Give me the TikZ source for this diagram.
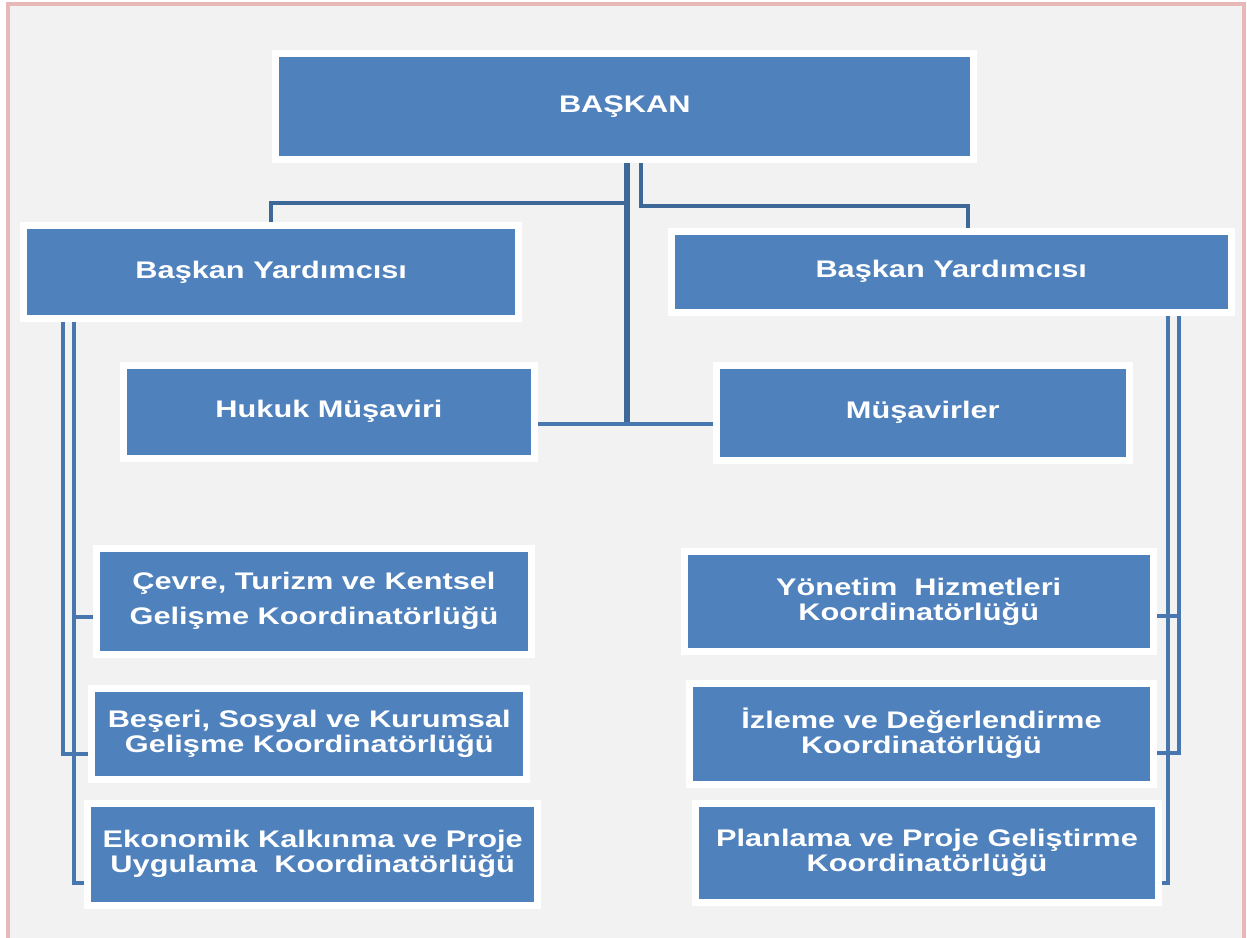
\documentclass[tikz,border=0pt]{standalone}
\usepackage{fontspec}
\newfontfamily\kutufont{Liberation Sans}[FakeStretch=1.28]
\usetikzlibrary{shadows}
\definecolor{kutumavi}{RGB}{79,129,189}
\definecolor{hatmavi}{RGB}{72,118,175}
\definecolor{govdemavi}{RGB}{62,104,152}
\definecolor{zemin}{RGB}{242,242,242}
\definecolor{cerceve}{RGB}{230,184,183}
\tikzset{
  kutu/.style={draw=white, line width=3.5bp, fill=kutumavi, text=white, align=center, inner sep=0pt,
    font=\kutufont\bfseries\fontsize{12bp}{12.5bp}\selectfont,
    drop shadow={shadow xshift=1.2bp, shadow yshift=-1.8bp, opacity=.35}},
  hat/.style={draw=hatmavi, line width=2bp, line join=miter},
  govde/.style={draw=govdemavi, line width=2bp, line join=miter}
}
\begin{document}
\begin{tikzpicture}[x=0.5bp,y=-0.5bp]
\useasboundingbox (0,0) rectangle (1247,937);
\fill[white] (0,0) rectangle (1247,937);
\draw[cerceve, fill=zemin, line width=2bp] (8,4) rectangle (1244,950);
% kutular
\node[kutu, minimum width=348.75bp, minimum height=53bp] (baskan) at (624.75,106.5) {BAŞKAN};
\node[kutu, minimum width=247.25bp, minimum height=46.5bp] (byL) at (271.25,272) {Başkan Yardımcısı};
\node[kutu, minimum width=280.25bp, minimum height=40.5bp] (byR) at (951.25,271.5) {Başkan Yardımcısı};
\node[kutu, minimum width=205bp, minimum height=46.75bp] (hukuk) at (329,411.75) {Hukuk Müşaviri};
\node[kutu, minimum width=206.75bp, minimum height=47.5bp] (musavir) at (922.75,412.5) {Müşavirler};
\node[kutu, minimum width=217bp, minimum height=53.25bp] (cevre) at (314,601.25) {Çevre, Turizm ve Kentsel\\[5bp]Gelişme Koordinatörlüğü};
\node[kutu, minimum width=217.25bp, minimum height=45.5bp] (beseri) at (309.25,733.5) {Beşeri, Sosyal ve Kurumsal\\Gelişme Koordinatörlüğü};
\node[kutu, minimum width=224.75bp, minimum height=51bp] (ekonomik) at (312.75,854) {Ekonomik Kalkınma ve Proje\\Uygulama\ \ Koordinatörlüğü};
\node[kutu, minimum width=234.75bp, minimum height=50bp] (yonetim) at (918.75,601.5) {Yönetim\ \ Hizmetleri\\Koordinatörlüğü};
\node[kutu, minimum width=232bp, minimum height=50.5bp] (izleme) at (921.5,733.5) {İzleme ve Değerlendirme\\Koordinatörlüğü};
\node[kutu, minimum width=231.5bp, minimum height=49.5bp] (planlama) at (927,852.5) {Planlama ve Proje Geliştirme\\Koordinatörlüğü};
% baskana bagli hatlar
\coordinate (orta) at (627,424);
\coordinate (solkol) at (627,203);
\coordinate (sagkol) at (641,206);
\coordinate (sagkose) at (968,206);
\draw[govde, line width=3bp] (baskan.south -| orta) -- (orta);
\draw[hat] (hukuk.east |- orta) -- (musavir.west |- orta);
\draw[govde] (solkol) -| (byL.north);
\draw[govde] (baskan.south -| sagkol) -- (sagkol) -- (sagkose) -- (byR.north -| sagkose);
% sol taraf
\coordinate (sol1) at (63,754);
\coordinate (sol2) at (74,883);
\coordinate (cevrebag) at (74,617);
\draw[hat] (byL.south -| sol1) -- (sol1) -- (beseri.west |- sol1);
\draw[hat] (byL.south -| sol2) -- (sol2) -- (ekonomik.west |- sol2);
\draw[hat] (cevrebag) -- (cevre.west |- cevrebag);
% sag taraf
\coordinate (sag1) at (1179,753);
\coordinate (sag2) at (1168,883);
\coordinate (yonetimbag) at (1179,616);
\draw[hat] (byR.south -| sag1) -- (sag1) -- (izleme.east |- sag1);
\draw[hat] (byR.south -| sag2) -- (sag2) -- (planlama.east |- sag2);
\draw[hat] (yonetimbag) -- (yonetim.east |- yonetimbag);
\end{tikzpicture}
\end{document}
